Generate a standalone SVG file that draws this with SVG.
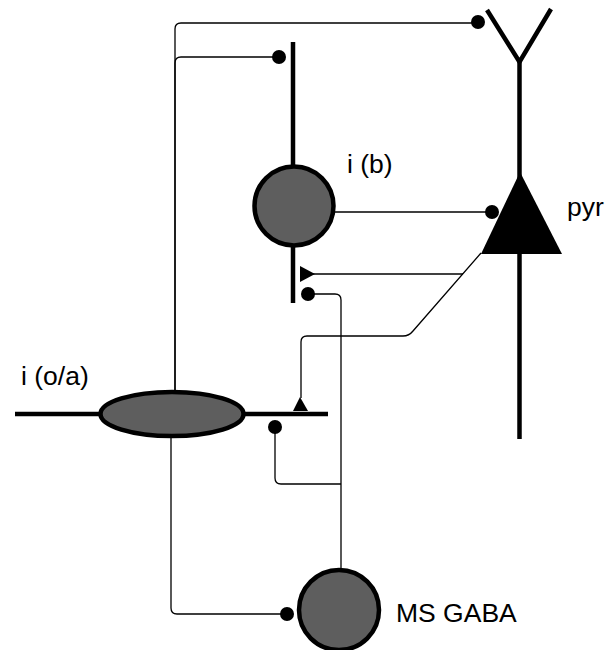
<svg xmlns="http://www.w3.org/2000/svg" width="613" height="650" viewBox="0 0 613 650">
<style>
.conn{fill:none;stroke:#000;stroke-width:1.3}
.dend{fill:none;stroke:#000;stroke-width:4.5}
.soma{fill:#5e5e5e;stroke:#000;stroke-width:4.5}
.dot{fill:#000}
.syn{fill:#000}
.lbl{font-family:"Liberation Sans",Arial,sans-serif;font-size:26.5px;fill:#000}
</style>
<rect width="613" height="650" fill="#fff"/>
<g id="connectors">
<path class="conn" d="M175,392 V29 Q175,23 181,23 H478"/>
<path class="conn" d="M175,392 V63 Q175,57 181,57 H279"/>
<path class="conn" d="M332,212 H492"/>
<path class="conn" d="M481,253 L413,331 Q409,336 403,336 H307 Q301,336 301,342 V398"/>
<path class="conn" d="M463,274 H312"/>
<path class="conn" d="M308,294 H335 Q341,294 341,300 V570"/>
<path class="conn" d="M275,427 V478 Q275,484 281,484 H341"/>
<path class="conn" d="M171,436 V608 Q171,614 177,614 H287"/>
<circle class="dot" cx="478" cy="22" r="7"/>
<circle class="dot" cx="279" cy="57" r="7"/>
<circle class="dot" cx="492" cy="212" r="7"/>
<circle class="dot" cx="308" cy="294" r="7"/>
<circle class="dot" cx="275" cy="427" r="7"/>
<circle class="dot" cx="287" cy="614" r="7"/>
<polygon class="syn" points="300,266 300,282 315,274"/>
<polygon class="syn" points="300,397 293,411 308,411"/>
</g>
<g id="pyr">
<path class="dend" d="M487,10 L519.5,62 L551,9"/>
<path class="dend" d="M519.5,62 V439"/>
<polygon points="520,172 481,254 562,254" fill="#000"/>
<text class="lbl" x="567" y="216">pyr</text>
</g>
<g id="ib">
<path class="dend" d="M293,42 V303"/>
<circle class="soma" cx="294" cy="206" r="39.5"/>
<text class="lbl" x="347" y="173">i (b)</text>
</g>
<g id="ioa">
<path class="dend" d="M15,414 H328"/>
<ellipse class="soma" cx="172" cy="414" rx="71.5" ry="22"/>
<text class="lbl" x="21" y="385">i (o/a)</text>
</g>
<g id="msgaba">
<circle class="soma" cx="339" cy="610" r="40"/>
<text class="lbl" x="396" y="622">MS GABA</text>
</g>
</svg>
